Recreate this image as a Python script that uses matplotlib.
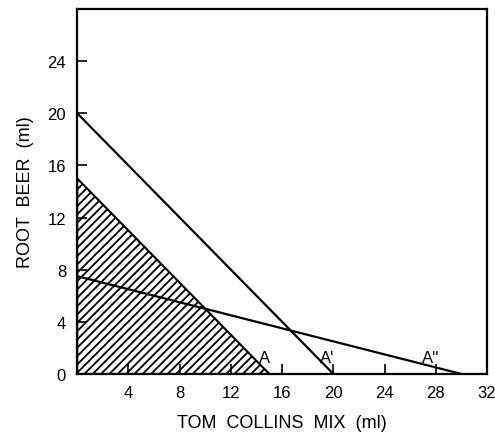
import numpy as np
import matplotlib.pyplot as plt

# budget lines (x intercept, y intercept)
linea_a = [15, 15]
linea_a1 = [20, 20]
linea_a2 = [30, 7.5]
etiquetas = ["A", "A'", "A''"]
etiqueta_x = [14.6, 19.5, 27.6]
xticks = [4, 8, 12, 16, 20, 24, 28, 32]
yticks = [0, 4, 8, 12, 16, 20, 24]

plt.rcParams['font.family'] = ['Liberation Sans', 'DejaVu Sans']
plt.rcParams['hatch.linewidth'] = 1.3
fig = plt.figure(figsize=(4.95, 4.35), dpi=100)
ax = fig.add_axes([0.156, 0.138, 0.828, 0.839])

ax.fill([0, linea_a[0], 0], [0, 0, linea_a[1]], facecolor="white",
        edgecolor="black", hatch="////", linewidth=1.5)
ax.plot([0, linea_a1[0]], [linea_a1[1], 0], color="black", lw=1.6)
ax.plot([0, linea_a2[0]], [linea_a2[1], 0], color="black", lw=1.6)

for et, x in zip(etiquetas, etiqueta_x):
    ax.text(x, 0.7, et, fontsize=12, ha="center", va="bottom")

ax.set_xlim(0, 32)
ax.set_ylim(0, 28)
ax.set_xticks(xticks)
ax.set_yticks(yticks)
ax.tick_params(direction="in", length=7, width=1.2, labelsize=12, pad=8)
for s in ax.spines.values():
    s.set_linewidth(1.6)
ax.set_xlabel("TOM  COLLINS  MIX  (ml)", fontsize=13, labelpad=10)
ax.set_ylabel("ROOT  BEER  (ml)", fontsize=13, labelpad=10)

plt.savefig("out.png", dpi=100)
